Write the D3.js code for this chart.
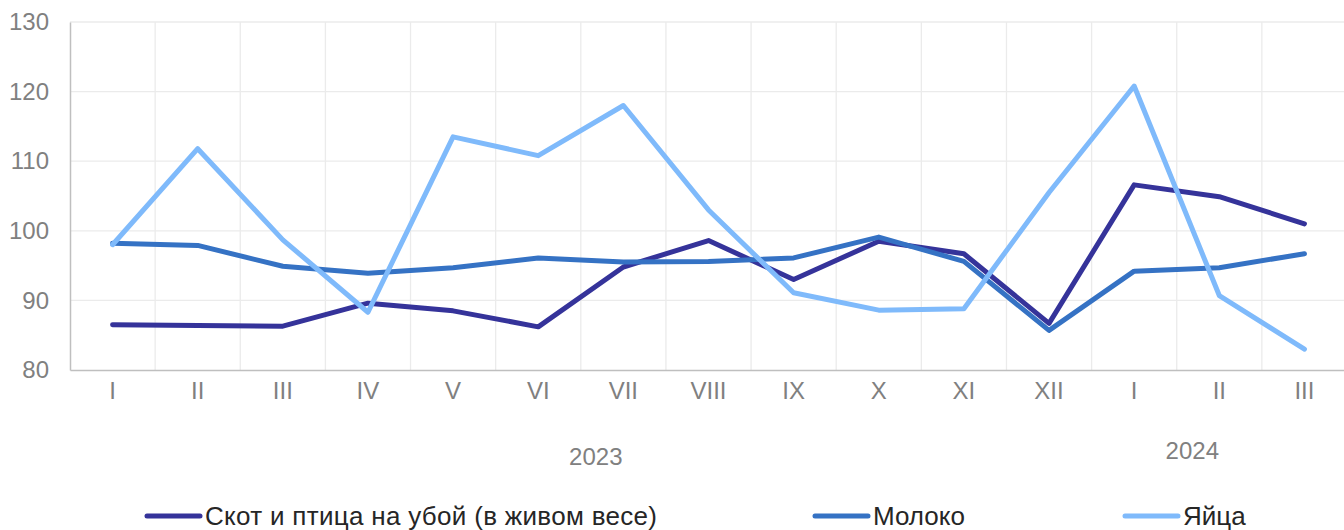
<!DOCTYPE html>
<html><head><meta charset="utf-8">
<script src="https://cdn.jsdelivr.net/npm/d3@7"></script>
<style>body{margin:0;background:#fff;}svg{display:block;font-family:"Liberation Sans",Arial,sans-serif;}</style>
</head><body>
<svg id="c" width="1344" height="530"></svg>
<script>
const months = ["I","II","III","IV","V","VI","VII","VIII","IX","X","XI","XII","I","II","III"];
const years = [{label:"2023", from:0, to:11, dx:15, base:465},{label:"2024", from:12, to:14, dx:-27, base:459}];
const seriesNames = ["Скот и птица на убой (в живом весе)","Молоко","Яйца"];
const livestock = [86.5,86.4,86.3,89.6,88.5,86.2,94.8,98.6,93.0,98.5,96.7,86.7,106.6,104.9,101.0];
const milk = [98.2,97.9,94.9,93.9,94.7,96.1,95.5,95.6,96.1,99.1,95.6,85.7,94.2,94.7,96.7];
const eggs = [98.0,111.8,98.7,88.3,113.5,110.8,118.0,103.0,91.1,88.6,88.8,105.5,120.8,90.7,83.0];
const yTicks = [80,90,100,110,120,130];
const colors = ["#35339a","#3572c4","#7fbafb"];

const svg = d3.select("#c");
const L = 70, R = 1347, T = 22, B = 370;
const idx = d3.range(months.length);
const x = d3.scaleBand().domain(idx).range([L, R]);
const y = d3.scaleLinear().domain([80,130]).range([B, T]);

// gridlines
svg.append("g").selectAll("line").data(yTicks.slice(1)).join("line")
  .attr("x1", L).attr("x2", R).attr("y1", d=>y(d)).attr("y2", d=>y(d))
  .attr("stroke", "#ebebeb").attr("stroke-width", 1.3);
svg.append("g").selectAll("line").data(idx.slice(1)).join("line")
  .attr("x1", d=>x(d)).attr("x2", d=>x(d)).attr("y1", T).attr("y2", B)
  .attr("stroke", "#ebebeb").attr("stroke-width", 1.3);

// axes
const yAxis = svg.append("g").attr("transform", `translate(${L},0)`)
  .call(d3.axisLeft(y).tickValues(yTicks).tickSize(0).tickPadding(21));
yAxis.select(".domain").attr("stroke", "#bfbfbf").attr("stroke-width", 1.5);
yAxis.selectAll("text").attr("fill", "#808080").attr("font-size", 24).attr("font-family", "Liberation Sans, Arial, sans-serif");

const xAxis = svg.append("g").attr("transform", `translate(0,${B})`)
  .call(d3.axisBottom(x).tickFormat(i=>months[i]).tickSize(0).tickPadding(12));
xAxis.select(".domain").attr("stroke", "#bfbfbf").attr("stroke-width", 1.5);
xAxis.selectAll("text").attr("fill", "#808080").attr("font-size", 24).attr("font-family", "Liberation Sans, Arial, sans-serif");

// year labels
svg.append("g").selectAll("text").data(years).join("text")
  .attr("x", d => (x(d.from) + x(d.to) + x.bandwidth())/2 + d.dx)
  .attr("y", d => d.base)
  .attr("text-anchor", "middle").attr("fill", "#808080").attr("font-size", 24)
  .text(d => d.label);

// lines
const line = d3.line().x((d,i)=>x(i)+x.bandwidth()/2).y(d=>y(d));
[livestock, milk, eggs].forEach((s, k) => {
  svg.append("path").datum(s).attr("d", line)
    .attr("fill", "none").attr("stroke", colors[k]).attr("stroke-width", 5)
    .attr("stroke-linejoin", "round").attr("stroke-linecap", "round");
});

// legend
const legX = [147, 815, 1125];
const leg = svg.append("g").selectAll("g").data(seriesNames).join("g")
  .attr("transform", (d,i)=>`translate(${legX[i]},516)`);
leg.append("line").attr("x1", 0).attr("x2", 53).attr("y1", 0).attr("y2", 0)
  .attr("stroke", (d,i)=>colors[i]).attr("stroke-width", 5).attr("stroke-linecap", "round");
leg.append("text").attr("x", 58).attr("y", 9).attr("fill", "#262626").attr("font-size", 26)
  .attr("textLength", (d,i)=> i===0 ? 452 : null)
  .text(d=>d);
</script>
</body></html>
